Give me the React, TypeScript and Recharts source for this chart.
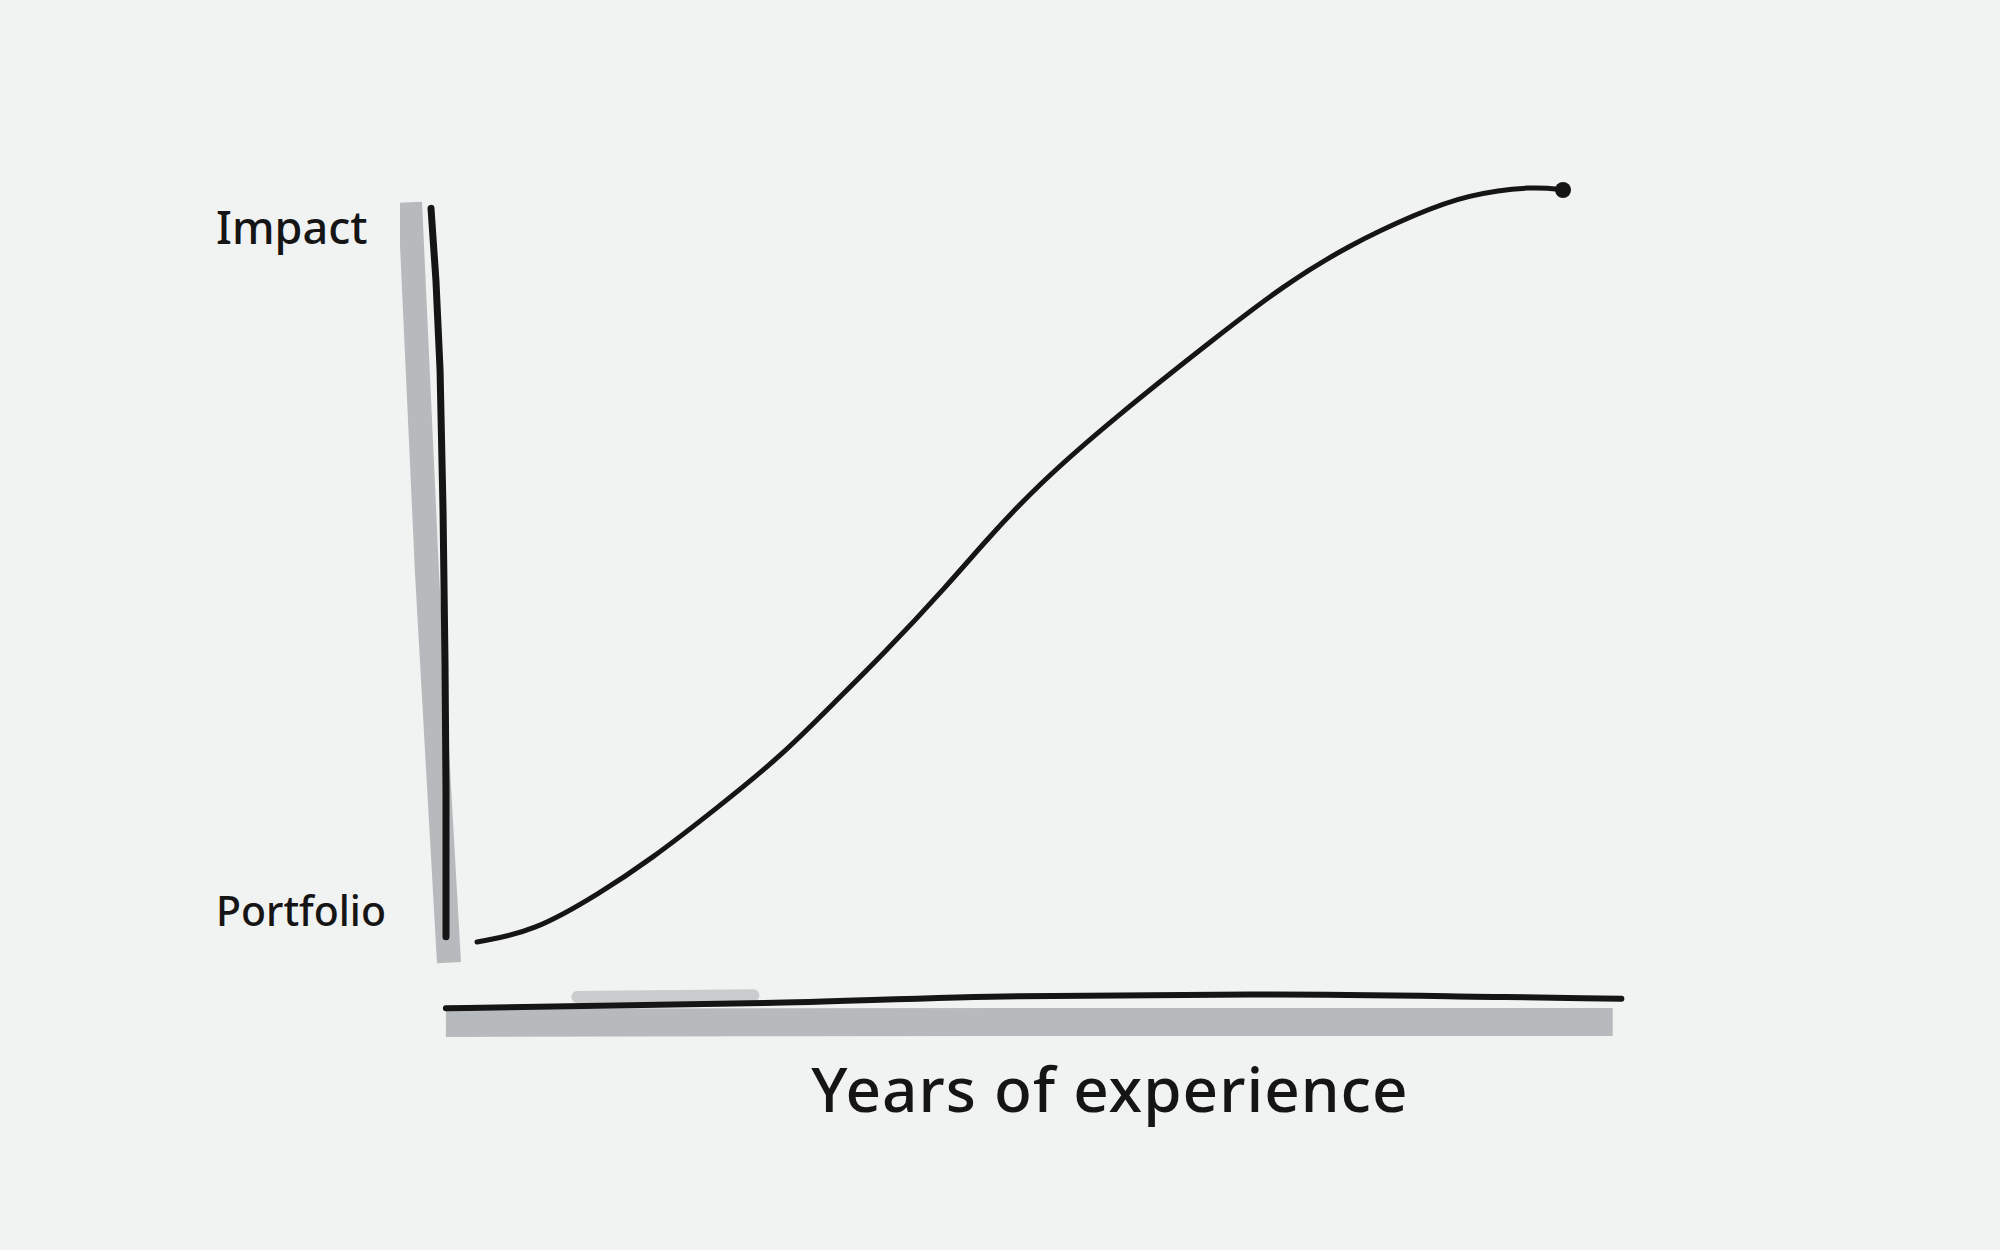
import { LineChart, Line, XAxis, YAxis, Label } from 'recharts';

// hand-drawn curve: years of experience vs impact (0-100 data units)
const curveX = [6.21, 10.73, 16.13, 20.16, 25.56, 30.89, 34.92, 38.95, 44.35, 47.02, 51.37, 57.82, 65.89, 71.21, 76.61, 82.02, 86.05, 91.37, 93.79];
const curveY = [11.4, 12.56, 17.09, 20.93, 26.96, 33.2, 39.1, 44.8, 53.2, 57.7, 64.5, 72.6, 81.8, 87.7, 92.5, 96.1, 98.3, 99.3, 98.84];

// the sketched axes (ink line + grey marker shadow)
const yInkX = [2.5, 2.9, 3.23, 3.47, 3.63, 3.71, 3.71];
const yInkY = [96.7, 88.3, 77.9, 61.6, 43.8, 29.0, 12.0];
const yShadeX = [0.81, 2.18, 3.95];
const yShadeY = [97.4, 54.2, 9.0];
const xInkX = [3.7, 29.4, 50.0, 70.6, 89.1, 98.5];
const xInkY = [3.7, 4.3, 5.1, 5.3, 5.0, 4.8];
const xShadeX = [3.7, 50.0, 97.8];
const xShadeY = [1.98, 2.1, 2.1];
const xSmudgeX = [14.3, 28.5];
const xSmudgeY = [5.0, 5.2];

const yTicks = [14.9, 94.4];
const yTickLabels = ['Portfolio', 'Impact'];
const xTitle = 'Years of experience';

const zip = (xs: number[], ys: number[]) => xs.map((x, i) => ({ x, y: ys[i] }));

const curve = zip(curveX, curveY);
const yInk = zip(yInkX, yInkY);
const yShade = zip(yShadeX, yShadeY);
const xInk = zip(xInkX, xInkY);
const xShade = zip(xShadeX, xShadeY);
const xSmudge = zip(xSmudgeX, xSmudgeY);

const ink = '#151515';
const shade = '#b7babc';
const font = '"Noto Sans", "DejaVu Sans", sans-serif';

function SideTick(props: any) {
  const { x, y, payload, index } = props;
  const label = yTickLabels[yTicks.indexOf(payload.value)] ?? '';
  return (
    <text
      x={x - 160}
      y={y}
      dy="0.35em"
      textAnchor="start"
      fill={ink}
      fontFamily={font}
      fontWeight={500}
      fontSize={index === 1 ? 45 : 41}
    >
      {label}
    </text>
  );
}

export default function App() {
  const last = curve.length - 1;
  return (
    <div style={{ position: 'absolute', left: 0, top: 0, width: 2000, height: 1250, background: '#f1f2f2' }}>
      <LineChart width={2000} height={1250} data={curve} margin={{ top: 180, right: 360, bottom: 110, left: 200 }}>
        <XAxis
          type="number"
          dataKey="x"
          domain={[0, 100]}
          allowDataOverflow
          tick={false}
          axisLine={false}
          tickLine={false}
          height={100}
        >
          <Label
            value={xTitle}
            position="center"
            dx={90}
            style={{ fontSize: 62, fontFamily: font, fill: ink, fontWeight: 500, letterSpacing: 1 }}
          />
        </XAxis>
        <YAxis
          type="number"
          dataKey="y"
          domain={[0, 100]}
          allowDataOverflow
          width={200}
          ticks={yTicks}
          axisLine={false}
          tickLine={false}
          tickSize={0}
          tickMargin={24}
          tick={<SideTick />}
        />
        <Line data={yShade} dataKey="y" type="linear" stroke={shade} strokeWidth={24} strokeLinejoin="round" dot={false} isAnimationActive={false} />
        <Line data={xSmudge} dataKey="y" type="linear" stroke="#c9cbcc" strokeWidth={12} strokeLinecap="round" dot={false} isAnimationActive={false} />
        <Line data={xShade} dataKey="y" type="monotone" stroke={shade} strokeWidth={28} dot={false} isAnimationActive={false} />
        <Line data={yInk} dataKey="y" type="linear" stroke={ink} strokeWidth={7} strokeLinecap="round" strokeLinejoin="round" dot={false} isAnimationActive={false} />
        <Line data={xInk} dataKey="y" type="monotone" stroke={ink} strokeWidth={6} strokeLinecap="round" dot={false} isAnimationActive={false} />
        <Line
          dataKey="y"
          type="basis"
          stroke={ink}
          strokeWidth={5}
          strokeLinecap="round"
          isAnimationActive={false}
          dot={(p: any) =>
            p.index === last ? (
              <circle key={`d-${p.index}`} cx={p.cx} cy={p.cy} r={8} fill={ink} />
            ) : (
              <g key={`d-${p.index}`} />
            )
          }
        />
      </LineChart>
    </div>
  );
}
